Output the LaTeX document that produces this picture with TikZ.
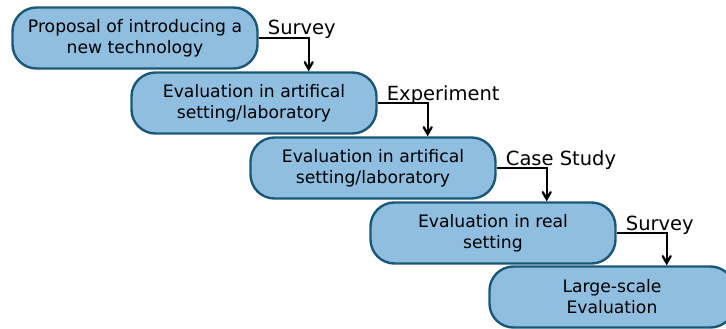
\documentclass[tikz,border=0pt]{standalone}
\usepackage{fontspec}
\setmainfont{DejaVu Sans}
\usetikzlibrary{arrows,positioning}
\definecolor{stepfill}{HTML}{8FBEE0}
\definecolor{stepline}{HTML}{1B5876}
\tikzset
{
    stage/.style = {rectangle, rounded corners=24pt, draw=stepline, fill=stepfill, line width=2.4pt, align=center, minimum width=245pt, minimum height=61pt, inner sep=0pt, font=\fontsize{17.2}{21}\selectfont},
    flow/.style  = {->, >=angle 60, line width=2.3pt, black},
    method/.style = {anchor=base west, inner sep=1pt, font=\fontsize{19.5}{22}\selectfont}
}
\begin{document}
\begin{tikzpicture}[x=1pt,y=-1pt]
\useasboundingbox (0,0) rectangle (726,329);
\node [stage] at (135,38) (p1) {Proposal of introducing a\\new technology};
\node [stage] at (254,103) (p2) {Evaluation in artifical\\setting/laboratory};
\node [stage] at (373,168) (p3) {Evaluation in artifical\\setting/laboratory};
\node [stage] at (493,233) (p4) {Evaluation in real\\setting};
\node [stage] at (612,297) (p5) {Large-scale\\Evaluation};
% links between the stages
\draw [flow] (p1.east) -| ([xshift=50pt]p1.east |- p2.north);
\draw [flow] (p2.east) -| ([xshift=50pt]p2.east |- p3.north);
\draw [flow] (p3.east) -| ([xshift=50pt]p3.east |- p4.north);
\draw [flow] (p4.east) -| ([xshift=50pt]p4.east |- p5.north);
\node [method] at ([xshift=8pt,yshift=3pt]p1.east) (m1) {Survey};
\node [method] at ([xshift=8pt,yshift=3pt]p2.east) (m2) {Experiment};
\node [method] at ([xshift=8pt,yshift=3pt]p3.east) (m3) {Case Study};
\node [method] at ([xshift=8pt,yshift=3pt]p4.east) (m4) {Survey};
\end{tikzpicture}
\end{document}
